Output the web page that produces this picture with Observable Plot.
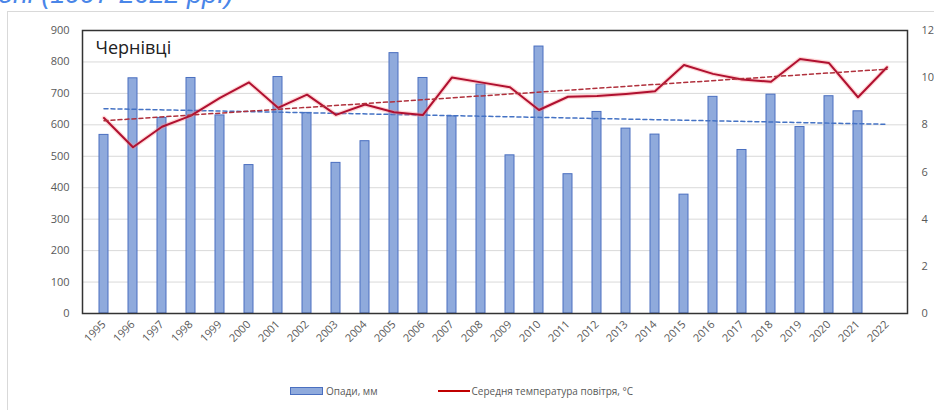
<!DOCTYPE html>
<html>
<head>
<meta charset="utf-8">
<script src="https://cdn.jsdelivr.net/npm/d3@7"></script>
<script src="https://cdn.jsdelivr.net/npm/@observablehq/plot@0.6"></script>
<style>
  html, body { margin: 0; padding: 0; background: #fff; width: 934px; height: 410px; overflow: hidden; position: relative; font-family: "Open Sans", "Noto Sans", sans-serif; }
  #heading { position: absolute; left: -2px; top: -21px; font-size: 27px; font-style: italic; color: #4a86e8; white-space: nowrap; font-family: "Liberation Sans", sans-serif; }
  #box { position: absolute; left: 7px; top: 11px; width: 1000px; height: 600px; border: 1px solid #d9d9d9; }
  #chart { position: absolute; left: 0; top: 0; }
  #legend { position: absolute; top: 384px; left: 290px; font-size: 10px; color: #595959; display: flex; align-items: center; white-space: nowrap; }
  .sw-bar { display: inline-block; width: 33px; height: 8px; background: #8faadc; border: 1px solid #4a6fc0; box-sizing: border-box; margin-right: 3px; }
  .sw-line { display: inline-block; width: 32px; height: 2px; background: #c00000; margin-left: 60px; margin-right: 2px; }
</style>
</head>
<body>
<div id="heading">оні (1997-2022 рр.)</div>
<div id="box"></div>
<div id="chart"></div>
<div id="legend"><span class="sw-bar"></span><span>Опади, мм</span><span class="sw-line"></span><span>Середня температура повітря, °С</span></div>
<script>
const years = ["1995","1996","1997","1998","1999","2000","2001","2002","2003","2004","2005","2006","2007","2008","2009","2010","2011","2012","2013","2014","2015","2016","2017","2018","2019","2020","2021","2022"];
const precipitation = [568,748,622,749,630,472,752,638,479,548,828,749,627,728,503,849,443,641,588,569,378,689,520,696,593,691,643,null];
const temperature = [8.29,7.05,7.92,8.39,9.14,9.8,8.72,9.28,8.42,8.86,8.53,8.42,10.01,9.8,9.59,8.63,9.19,9.22,9.31,9.42,10.54,10.16,9.92,9.83,10.79,10.62,9.17,10.44];
const leftTicks = [0,100,200,300,400,500,600,700,800,900];
const rightTicks = [0,2,4,6,8,10,12];
const title = "Чернівці";

const k = 900 / 12; // temperature -> left-axis units

const bars = years.map((y, i) => ({year: y, p: precipitation[i]})).filter(d => d.p != null);
const temps = years.map((y, i) => ({year: y, t: temperature[i] * k}));

function fit(xs, ys) {
  const mx = d3.mean(xs), my = d3.mean(ys);
  const b = d3.sum(xs, (x, i) => (x - mx) * (ys[i] - my)) / d3.sum(xs, x => (x - mx) ** 2);
  return x => my + b * (x - mx);
}
const pf = fit(bars.map(d => +d.year), bars.map(d => d.p));
const tf = fit(temps.map(d => +d.year), temps.map(d => d.t));
const ends = [years[0], years[years.length - 1]];
const pTrend = ends.map(y => ({year: y, v: pf(+y)}));
const tTrend = ends.map(y => ({year: y, v: tf(+y)}));

const chart = Plot.plot({
  width: 934,
  height: 350,
  marginLeft: 82,
  marginRight: 27,
  marginTop: 30,
  marginBottom: 37,
  style: {fontFamily: "'Open Sans', 'Noto Sans', sans-serif", fontSize: "11px", color: "#595959", background: "transparent", overflow: "visible"},
  x: {domain: years, paddingInner: 0.7, paddingOuter: 0.35, label: null},
  y: {domain: [0, 900], label: null},
  marks: [
    Plot.ruleY(leftTicks, {stroke: "#d9d9d9", strokeWidth: 1}),
    Plot.barY(bars, {x: "year", y: "p", fill: "#8faadc", stroke: "#4a6fc0", strokeWidth: 1}),
    Plot.line(pTrend, {x: "year", y: "v", stroke: "#4472c4", strokeWidth: 1.5, strokeDasharray: "4,3"}),
    Plot.line(temps, {x: "year", y: "t", stroke: "#ff8a8a", strokeWidth: 4.5, strokeOpacity: 0.35}),
    Plot.line(temps, {x: "year", y: "t", stroke: "#b01030", strokeWidth: 2}),
    Plot.line(tTrend, {x: "year", y: "v", stroke: "#b0303c", strokeWidth: 1.5, strokeDasharray: "4,3"}),
    Plot.frame({stroke: "#333", strokeWidth: 1.5}),
    Plot.axisY(leftTicks, {anchor: "left", tickSize: 0, tickPadding: 13, label: null}),
    Plot.axisY(rightTicks.map(t => t * k), {anchor: "right", tickSize: 0, tickPadding: 14, tickFormat: d => String(Math.round(d / k)), textAnchor: "start", label: null}),
    Plot.axisX({tickRotate: -45, tickSize: 0, tickPadding: 9, label: null}),
    Plot.text([title], {frameAnchor: "top-left", dx: 13, dy: 11, fontSize: 18, fill: "#222", textAnchor: "start", lineAnchor: "top"})
  ]
});
document.getElementById("chart").appendChild(chart);
</script>
</body>
</html>
